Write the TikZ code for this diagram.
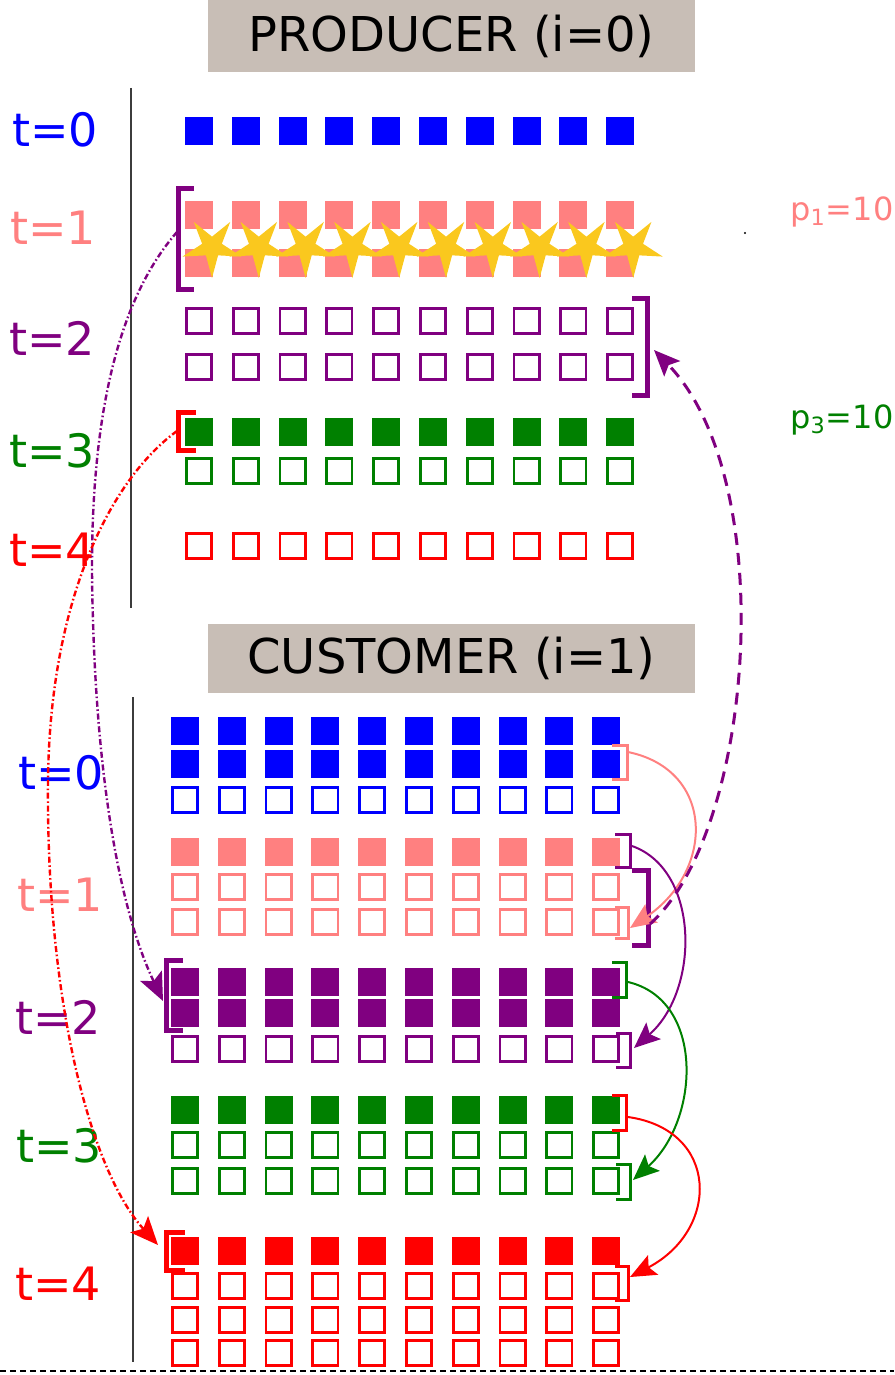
\documentclass[tikz,border=0pt]{standalone}
\usepackage{fontspec}
\setmainfont{DejaVu Sans}
\usetikzlibrary{shapes.geometric,arrows.meta}

\definecolor{cblue}{RGB}{0,0,255}
\definecolor{csalmon}{RGB}{255,128,128}
\definecolor{cpurple}{RGB}{128,0,128}
\definecolor{cgreen}{RGB}{0,128,0}
\definecolor{cred}{RGB}{255,0,0}
\definecolor{cgold}{RGB}{250,200,30}
\definecolor{ctaupe}{RGB}{200,190,182}
\definecolor{caxis}{RGB}{60,60,60}

\tikzset{
  fsq/.style={rectangle, inner sep=0pt, minimum size=14pt, fill=#1},
  osq/.style={rectangle, inner sep=0pt, minimum size=12.6pt, draw=#1, line width=1.4pt, fill=white},
  lbl/.style={text=#1, font=\fontsize{23}{27}\selectfont, inner sep=0pt},
  plbl/.style={text=#1, font=\fontsize{16}{20}\selectfont, inner sep=0pt, anchor=west},
  hdr/.style={fill=ctaupe, minimum width=243.5pt, inner sep=0pt, font=\fontsize{24}{28}\selectfont},
  brk/.style={draw=#1, line width=1.5pt},
  brkthick/.style={draw=#1, line width=2.5pt},
  flow/.style={draw=#1, line width=1pt, -{Stealth[length=13pt,width=11pt,inset=2.5pt]}},
  backflow/.style={draw=#1, line width=1.5pt, dash pattern=on 6pt off 4pt, -{Stealth[length=13pt,width=11pt,inset=2.5pt]}},
  ship/.style={draw=#1, line width=1.2pt, dash pattern=on 3pt off 1.3pt on 0.8pt off 1.3pt, -{Stealth[length=14pt,width=12pt,inset=3pt]}},
  axis/.style={draw=caxis, line width=0.8pt},
  goldstar/.style={star, star points=5, star point ratio=3, minimum size=31pt, inner sep=0pt, fill=cgold, shape border rotate=180},
}

% one row of ten squares: style, colour, name prefix, first x, y
\newcommand\sqrow[5]{%
  \foreach \k in {0,...,9}{\node[#1=#2] (#3\k) at ({#4+46.8*\k},#5) {};}}

\begin{document}
\begin{tikzpicture}[x=0.5pt,y=-0.5pt]
\useasboundingbox (0,0) rectangle (894,1375);

% ---------------- headers ----------------
\node[hdr, minimum height=36pt] (hprod) at (451.5,36) {PRODUCER (i=0)};
\node[hdr, minimum height=34.5pt] (hcust) at (451.5,658.5) {CUSTOMER (i=1)};

% ---------------- time axes ----------------
\coordinate (pa1) at (131,88);  \coordinate (pa2) at (131,608);
\coordinate (ca1) at (133,697); \coordinate (ca2) at (133,1362);
\draw[axis] (pa1) -- (pa2);
\draw[axis] (ca1) -- (ca2);

% ---------------- producer labels ----------------
\node[lbl=cblue]    (pt0) at (55,130) {t=0};
\node[lbl=csalmon]  (pt1) at (53,228) {t=1};
\node[lbl=cpurple]  (pt2) at (52,338) {t=2};
\node[lbl=cgreen]   (pt3) at (52,451) {t=3};
\node[lbl=cred]     (pt4) at (52,550) {t=4};

% ---------------- producer inventory ----------------
\sqrow{fsq}{cblue}{P0a}{199}{131}
\sqrow{fsq}{csalmon}{P1a}{199}{215}
\sqrow{fsq}{csalmon}{P1b}{199}{263}
\foreach \k in {0,...,9}{\node[goldstar] (S\k) at ({212+46.8*\k},247) {};}
\sqrow{osq}{cpurple}{P2a}{199}{321}
\sqrow{osq}{cpurple}{P2b}{199}{367}
\sqrow{fsq}{cgreen}{P3a}{199}{432}
\sqrow{osq}{cgreen}{P3b}{199}{471}
\sqrow{osq}{cred}{P4a}{199}{546}

% producer brackets
\draw[brkthick=cpurple] (194,189) -- (178,189) -- (178,289) -- (194,289);
\coordinate (pb1) at (177,232);
\draw[brkthick=cpurple] (632,298) -- (647,298) -- (647,395) -- (632,395);
\coordinate (pb2) at (654,350);
\draw[brkthick=cred] (196,412) -- (178,412) -- (178,450) -- (196,450);
\coordinate (pb3) at (177,431);

% prices
\node[plbl=csalmon] (pr1) at (790,212) {p\textsubscript{1}=10};
\node[plbl=cgreen]  (pr3) at (790,420) {p\textsubscript{3}=10};
\fill (745,233) circle (0.6pt);

% ---------------- customer labels ----------------
\node[lbl=cblue]    (ct0) at (61,773) {t=0};
\node[lbl=csalmon]  (ct1) at (60,895) {t=1};
\node[lbl=cpurple]  (ct2) at (58,1017) {t=2};
\node[lbl=cgreen]   (ct3) at (59,1146) {t=3};
\node[lbl=cred]     (ct4) at (58,1284) {t=4};

% ---------------- customer inventory ----------------
\sqrow{fsq}{cblue}{C0a}{185}{731}
\sqrow{fsq}{cblue}{C0b}{185}{764}
\sqrow{osq}{cblue}{C0c}{185}{800}
\sqrow{fsq}{csalmon}{C1a}{185}{852}
\sqrow{osq}{csalmon}{C1b}{185}{887}
\sqrow{osq}{csalmon}{C1c}{185}{922}
\sqrow{fsq}{cpurple}{C2a}{185}{982}
\sqrow{fsq}{cpurple}{C2b}{185}{1013}
\sqrow{osq}{cpurple}{C2c}{185}{1049}
\sqrow{fsq}{cgreen}{C3a}{185}{1110}
\sqrow{osq}{cgreen}{C3b}{185}{1145}
\sqrow{osq}{cgreen}{C3c}{185}{1181}
\sqrow{fsq}{cred}{C4a}{185}{1251}
\sqrow{osq}{cred}{C4b}{185}{1286}
\sqrow{osq}{cred}{C4c}{185}{1320}
\sqrow{osq}{cred}{C4d}{185}{1353}

% customer brackets (right side)
\draw[brk=csalmon] (612,745) -- (627,745) -- (627,779) -- (612,779);
\coordinate (cs0) at (628,752);
\draw[brk=cpurple] (615,834) -- (630,834) -- (630,867) -- (615,867);
\coordinate (cs1) at (632,846);
\draw[brkthick=cpurple] (632,870) -- (648,870) -- (648,945) -- (632,945);
\coordinate (cbig) at (650,924);
\draw[brk=csalmon] (615,907) -- (628,907) -- (628,938) -- (615,938);
\coordinate (ce1) at (630,928);
\draw[brk=cgreen] (612,962) -- (626,962) -- (626,997) -- (612,997);
\coordinate (cs2) at (628,982);
\draw[brk=cpurple] (616,1033) -- (630,1033) -- (630,1067) -- (616,1067);
\coordinate (ce2) at (634,1048);
\draw[brk=cred] (612,1095) -- (626,1095) -- (626,1130) -- (612,1130);
\coordinate (cs3) at (628,1117);
\draw[brk=cgreen] (616,1164) -- (630,1164) -- (630,1199) -- (616,1199);
\coordinate (ce3) at (633,1180);
\draw[brk=cred] (615,1266) -- (628,1266) -- (628,1300) -- (615,1300);
\coordinate (ce4) at (630,1277);

% customer brackets (left side)
\draw[brkthick=cpurple] (183,960) -- (166,960) -- (166,1030) -- (183,1030);
\coordinate (cl2) at (163,1001);
\draw[brkthick=cred] (185,1232) -- (166,1232) -- (166,1270) -- (185,1270);
\coordinate (cl4) at (158,1245);

% ---------------- carry-over flows ----------------
\draw[flow=csalmon] (cs0) .. controls (715,770) and (715,870) .. (ce1);
\draw[flow=cpurple] (cs1) .. controls (700,870) and (700,990) .. (ce2);
\draw[flow=cgreen]  (cs2) .. controls (705,1000) and (700,1120) .. (ce3);
\draw[flow=cred]    (cs3) .. controls (720,1130) and (720,1230) .. (ce4);

% order sent back to the producer
\draw[backflow=cpurple] (cbig) .. controls (755,830) and (780,480) .. (pb2);

% shipments from producer to customer
\coordinate (m1) at (93,620);
\draw[ship=cpurple] (pb1) .. controls (100,320) and (88,480) .. (m1)
                          .. controls (97,760) and (115,900) .. (cl2);
\coordinate (m2) at (48,780);
\draw[ship=cred] (pb3) .. controls (110,480) and (50,600) .. (m2)
                       .. controls (46,1000) and (90,1170) .. (cl4);

% ---------------- bottom rule ----------------
\coordinate (r1) at (0,1371); \coordinate (r2) at (894,1371);
\draw[line width=1pt, dash pattern=on 3pt off 2pt] (r1) -- (r2);
\end{tikzpicture}
\end{document}
